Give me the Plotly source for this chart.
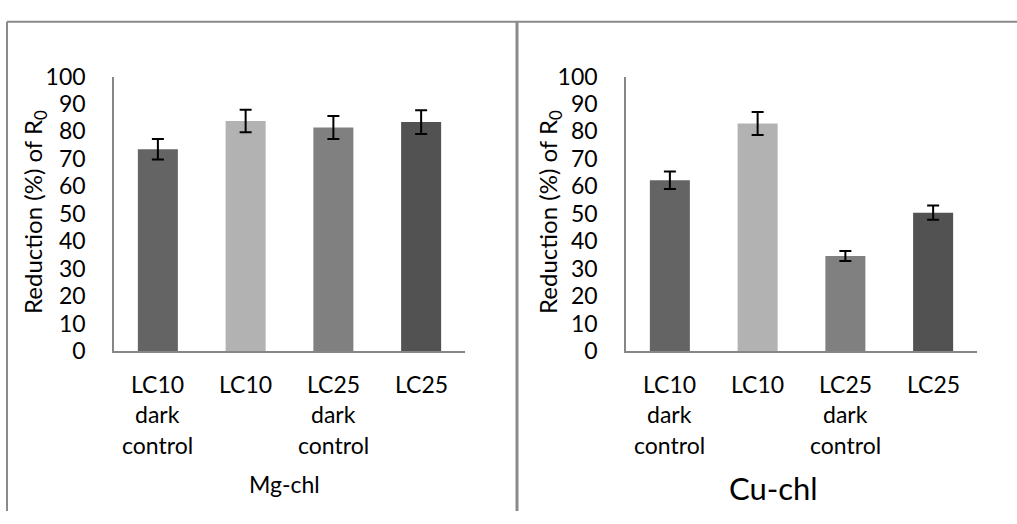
import plotly.graph_objects as go

W, H = 1017, 524

categories = ["LC10 dark control", "LC10", "LC25 dark control", "LC25"]
bar_colors = ["#646464", "#b2b2b2", "#808080", "#525252"]

mg_values = [73.5, 83.8, 81.4, 83.4]
mg_errors = [3.7, 4.1, 4.2, 4.3]

cu_values = [62.2, 82.9, 34.6, 50.4]
cu_errors = [3.2, 4.2, 1.8, 2.6]

panel_titles = ["Mg-chl", "Cu-chl"]
y_title = "Reduction (%) of R<sub>0</sub>"
y_ticks = [0, 10, 20, 30, 40, 50, 60, 70, 80, 90, 100]

FONT = "Lato"
AX = "#868686"
FS = 23

def px(x):
    return x / W

def py(y):
    return 1 - y / H

fig = go.Figure()
for i, (vals, errs) in enumerate([(mg_values, mg_errors), (cu_values, cu_errors)]):
    fig.add_trace(go.Bar(
        x=categories, y=vals,
        marker=dict(color=bar_colors, line=dict(width=0)),
        error_y=dict(type="data", array=errs, visible=True, color="black",
                     thickness=2, width=6),
        xaxis="x" if i == 0 else "x2",
        yaxis="y" if i == 0 else "y2",
        showlegend=False,
    ))

ydom = [py(355), py(65)]
common_x = dict(showticklabels=False, ticks="", showgrid=False, zeroline=False,
                showline=True, linecolor=AX, linewidth=1.5, fixedrange=True)
common_y = dict(range=[0, 100], tickvals=y_ticks, showgrid=False, zeroline=False,
                showline=True, linecolor=AX, linewidth=1.5, ticks="",
                ticklabelstandoff=22,
                tickfont=dict(family=FONT, size=FS, color="black"), domain=ydom)

fig.update_layout(
    width=W, height=H, autosize=False,
    margin=dict(l=0, r=0, t=0, b=0),
    paper_bgcolor="white", plot_bgcolor="white",
    bargap=0.544,
    font=dict(family=FONT, color="black"),
    xaxis=dict(domain=[px(114), px(465)], anchor="y", **common_x),
    yaxis=dict(anchor="x", **common_y),
    xaxis2=dict(domain=[px(626), px(977)], anchor="y2", **common_x),
    yaxis2=dict(anchor="x2", **common_y),
)

annotations = []
line_ys = [390, 422, 454]
for xa in ["x", "x2"]:
    for cat in categories:
        for j, word in enumerate(cat.split(" ")):
            annotations.append(dict(
                x=cat, xref=xa, y=py(line_ys[j]), yref="paper",
                text=word, showarrow=False, xanchor="center", yanchor="middle",
                font=dict(family=FONT, size=FS, color="black")))

# y-axis titles
for xc in [35, 550]:
    annotations.append(dict(
        x=px(xc), y=py(208), xref="paper", yref="paper", text=y_title,
        textangle=-90, showarrow=False, xanchor="center", yanchor="middle",
        font=dict(family=FONT, size=24, color="black")))

# panel titles
annotations.append(dict(x=px(284), y=py(496), xref="paper", yref="paper",
                        text=panel_titles[0], showarrow=False,
                        xanchor="center", yanchor="middle",
                        font=dict(family=FONT, size=23, color="black")))
annotations.append(dict(x=px(773), y=py(500), xref="paper", yref="paper",
                        text=panel_titles[1], showarrow=False,
                        xanchor="center", yanchor="middle",
                        font=dict(family=FONT, size=31, color="black")))
fig.update_layout(annotations=annotations)

# chart borders
border = "#8a8a8a"
fig.add_shape(type="line", xref="paper", yref="paper",
              x0=px(7), x1=1, y0=py(7), y1=py(7), line=dict(color=border, width=2))
fig.add_shape(type="line", xref="paper", yref="paper",
              x0=px(7), x1=px(7), y0=py(7), y1=0, line=dict(color=border, width=2))
fig.add_shape(type="line", xref="paper", yref="paper",
              x0=px(517), x1=px(517), y0=py(7), y1=0, line=dict(color=border, width=3))

fig.write_html(
    "out.html",
    config={"responsive": False, "displayModeBar": False},
    post_script="document.body.style.margin='0';document.body.style.overflow='hidden';",
)
